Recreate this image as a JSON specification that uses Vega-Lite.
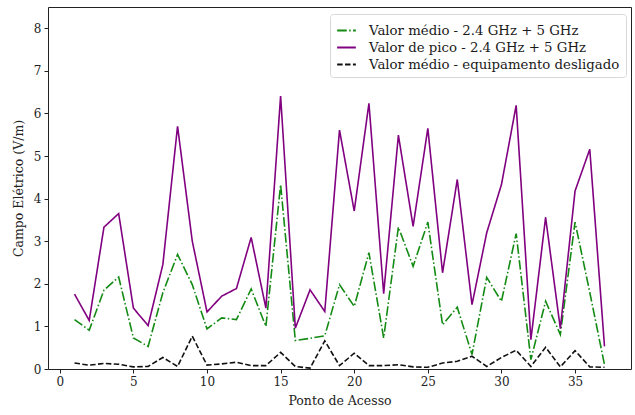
{
  "$schema": "https://vega.github.io/schema/vega-lite/v6.json",
  "width": 583,
  "height": 362,
  "autosize": {"type": "none"},
  "padding": {"left": 48, "top": 7, "right": 4, "bottom": 46},
  "background": "white",
  "config": {
    "font": "DejaVu Serif",
    "view": {"stroke": "#222", "strokeWidth": 1},
    "legend": {"labelFont": "DejaVu Serif", "titleFont": "DejaVu Serif"},
    "axis": {
      "labelFont": "DejaVu Serif",
      "titleFont": "DejaVu Serif",
      "labelFontSize": 12,
      "titleFontSize": 12.5,
      "titleFontWeight": "normal",
      "labelColor": "#222",
      "titleColor": "#222",
      "tickColor": "#222",
      "domain": false,
      "grid": false,
      "tickSize": 4,
      "labelPadding": 3
    }
  },
  "data": {
    "values": [
      {"x": 1, "v": 1.16, "s": "Valor médio - 2.4 GHz + 5 GHz"},
      {"x": 2, "v": 0.91, "s": "Valor médio - 2.4 GHz + 5 GHz"},
      {"x": 3, "v": 1.85, "s": "Valor médio - 2.4 GHz + 5 GHz"},
      {"x": 4, "v": 2.16, "s": "Valor médio - 2.4 GHz + 5 GHz"},
      {"x": 5, "v": 0.73, "s": "Valor médio - 2.4 GHz + 5 GHz"},
      {"x": 6, "v": 0.53, "s": "Valor médio - 2.4 GHz + 5 GHz"},
      {"x": 7, "v": 1.79, "s": "Valor médio - 2.4 GHz + 5 GHz"},
      {"x": 8, "v": 2.69, "s": "Valor médio - 2.4 GHz + 5 GHz"},
      {"x": 9, "v": 1.98, "s": "Valor médio - 2.4 GHz + 5 GHz"},
      {"x": 10, "v": 0.94, "s": "Valor médio - 2.4 GHz + 5 GHz"},
      {"x": 11, "v": 1.2, "s": "Valor médio - 2.4 GHz + 5 GHz"},
      {"x": 12, "v": 1.16, "s": "Valor médio - 2.4 GHz + 5 GHz"},
      {"x": 13, "v": 1.88, "s": "Valor médio - 2.4 GHz + 5 GHz"},
      {"x": 14, "v": 1.0, "s": "Valor médio - 2.4 GHz + 5 GHz"},
      {"x": 15, "v": 4.33, "s": "Valor médio - 2.4 GHz + 5 GHz"},
      {"x": 16, "v": 0.67, "s": "Valor médio - 2.4 GHz + 5 GHz"},
      {"x": 17, "v": 0.72, "s": "Valor médio - 2.4 GHz + 5 GHz"},
      {"x": 18, "v": 0.78, "s": "Valor médio - 2.4 GHz + 5 GHz"},
      {"x": 19, "v": 1.98, "s": "Valor médio - 2.4 GHz + 5 GHz"},
      {"x": 20, "v": 1.47, "s": "Valor médio - 2.4 GHz + 5 GHz"},
      {"x": 21, "v": 2.73, "s": "Valor médio - 2.4 GHz + 5 GHz"},
      {"x": 22, "v": 0.73, "s": "Valor médio - 2.4 GHz + 5 GHz"},
      {"x": 23, "v": 3.33, "s": "Valor médio - 2.4 GHz + 5 GHz"},
      {"x": 24, "v": 2.41, "s": "Valor médio - 2.4 GHz + 5 GHz"},
      {"x": 25, "v": 3.45, "s": "Valor médio - 2.4 GHz + 5 GHz"},
      {"x": 26, "v": 1.04, "s": "Valor médio - 2.4 GHz + 5 GHz"},
      {"x": 27, "v": 1.45, "s": "Valor médio - 2.4 GHz + 5 GHz"},
      {"x": 28, "v": 0.34, "s": "Valor médio - 2.4 GHz + 5 GHz"},
      {"x": 29, "v": 2.15, "s": "Valor médio - 2.4 GHz + 5 GHz"},
      {"x": 30, "v": 1.59, "s": "Valor médio - 2.4 GHz + 5 GHz"},
      {"x": 31, "v": 3.18, "s": "Valor médio - 2.4 GHz + 5 GHz"},
      {"x": 32, "v": 0.22, "s": "Valor médio - 2.4 GHz + 5 GHz"},
      {"x": 33, "v": 1.59, "s": "Valor médio - 2.4 GHz + 5 GHz"},
      {"x": 34, "v": 0.81, "s": "Valor médio - 2.4 GHz + 5 GHz"},
      {"x": 35, "v": 3.45, "s": "Valor médio - 2.4 GHz + 5 GHz"},
      {"x": 36, "v": 1.8, "s": "Valor médio - 2.4 GHz + 5 GHz"},
      {"x": 37, "v": 0.1, "s": "Valor médio - 2.4 GHz + 5 GHz"},
      {"x": 1, "v": 1.76, "s": "Valor de pico - 2.4 GHz + 5 GHz"},
      {"x": 2, "v": 1.14, "s": "Valor de pico - 2.4 GHz + 5 GHz"},
      {"x": 3, "v": 3.33, "s": "Valor de pico - 2.4 GHz + 5 GHz"},
      {"x": 4, "v": 3.65, "s": "Valor de pico - 2.4 GHz + 5 GHz"},
      {"x": 5, "v": 1.43, "s": "Valor de pico - 2.4 GHz + 5 GHz"},
      {"x": 6, "v": 1.02, "s": "Valor de pico - 2.4 GHz + 5 GHz"},
      {"x": 7, "v": 2.45, "s": "Valor de pico - 2.4 GHz + 5 GHz"},
      {"x": 8, "v": 5.7, "s": "Valor de pico - 2.4 GHz + 5 GHz"},
      {"x": 9, "v": 3.0, "s": "Valor de pico - 2.4 GHz + 5 GHz"},
      {"x": 10, "v": 1.34, "s": "Valor de pico - 2.4 GHz + 5 GHz"},
      {"x": 11, "v": 1.71, "s": "Valor de pico - 2.4 GHz + 5 GHz"},
      {"x": 12, "v": 1.89, "s": "Valor de pico - 2.4 GHz + 5 GHz"},
      {"x": 13, "v": 3.09, "s": "Valor de pico - 2.4 GHz + 5 GHz"},
      {"x": 14, "v": 1.43, "s": "Valor de pico - 2.4 GHz + 5 GHz"},
      {"x": 15, "v": 6.41, "s": "Valor de pico - 2.4 GHz + 5 GHz"},
      {"x": 16, "v": 0.96, "s": "Valor de pico - 2.4 GHz + 5 GHz"},
      {"x": 17, "v": 1.86, "s": "Valor de pico - 2.4 GHz + 5 GHz"},
      {"x": 18, "v": 1.35, "s": "Valor de pico - 2.4 GHz + 5 GHz"},
      {"x": 19, "v": 5.61, "s": "Valor de pico - 2.4 GHz + 5 GHz"},
      {"x": 20, "v": 3.71, "s": "Valor de pico - 2.4 GHz + 5 GHz"},
      {"x": 21, "v": 6.24, "s": "Valor de pico - 2.4 GHz + 5 GHz"},
      {"x": 22, "v": 1.77, "s": "Valor de pico - 2.4 GHz + 5 GHz"},
      {"x": 23, "v": 5.49, "s": "Valor de pico - 2.4 GHz + 5 GHz"},
      {"x": 24, "v": 3.35, "s": "Valor de pico - 2.4 GHz + 5 GHz"},
      {"x": 25, "v": 5.65, "s": "Valor de pico - 2.4 GHz + 5 GHz"},
      {"x": 26, "v": 2.26, "s": "Valor de pico - 2.4 GHz + 5 GHz"},
      {"x": 27, "v": 4.45, "s": "Valor de pico - 2.4 GHz + 5 GHz"},
      {"x": 28, "v": 1.51, "s": "Valor de pico - 2.4 GHz + 5 GHz"},
      {"x": 29, "v": 3.2, "s": "Valor de pico - 2.4 GHz + 5 GHz"},
      {"x": 30, "v": 4.33, "s": "Valor de pico - 2.4 GHz + 5 GHz"},
      {"x": 31, "v": 6.19, "s": "Valor de pico - 2.4 GHz + 5 GHz"},
      {"x": 32, "v": 0.69, "s": "Valor de pico - 2.4 GHz + 5 GHz"},
      {"x": 33, "v": 3.56, "s": "Valor de pico - 2.4 GHz + 5 GHz"},
      {"x": 34, "v": 0.95, "s": "Valor de pico - 2.4 GHz + 5 GHz"},
      {"x": 35, "v": 4.18, "s": "Valor de pico - 2.4 GHz + 5 GHz"},
      {"x": 36, "v": 5.16, "s": "Valor de pico - 2.4 GHz + 5 GHz"},
      {"x": 37, "v": 0.53, "s": "Valor de pico - 2.4 GHz + 5 GHz"},
      {"x": 1, "v": 0.14, "s": "Valor médio - equipamento desligado"},
      {"x": 2, "v": 0.09, "s": "Valor médio - equipamento desligado"},
      {"x": 3, "v": 0.13, "s": "Valor médio - equipamento desligado"},
      {"x": 4, "v": 0.11, "s": "Valor médio - equipamento desligado"},
      {"x": 5, "v": 0.05, "s": "Valor médio - equipamento desligado"},
      {"x": 6, "v": 0.06, "s": "Valor médio - equipamento desligado"},
      {"x": 7, "v": 0.27, "s": "Valor médio - equipamento desligado"},
      {"x": 8, "v": 0.06, "s": "Valor médio - equipamento desligado"},
      {"x": 9, "v": 0.77, "s": "Valor médio - equipamento desligado"},
      {"x": 10, "v": 0.09, "s": "Valor médio - equipamento desligado"},
      {"x": 11, "v": 0.12, "s": "Valor médio - equipamento desligado"},
      {"x": 12, "v": 0.16, "s": "Valor médio - equipamento desligado"},
      {"x": 13, "v": 0.08, "s": "Valor médio - equipamento desligado"},
      {"x": 14, "v": 0.08, "s": "Valor médio - equipamento desligado"},
      {"x": 15, "v": 0.39, "s": "Valor médio - equipamento desligado"},
      {"x": 16, "v": 0.06, "s": "Valor médio - equipamento desligado"},
      {"x": 17, "v": 0.02, "s": "Valor médio - equipamento desligado"},
      {"x": 18, "v": 0.66, "s": "Valor médio - equipamento desligado"},
      {"x": 19, "v": 0.08, "s": "Valor médio - equipamento desligado"},
      {"x": 20, "v": 0.37, "s": "Valor médio - equipamento desligado"},
      {"x": 21, "v": 0.08, "s": "Valor médio - equipamento desligado"},
      {"x": 22, "v": 0.08, "s": "Valor médio - equipamento desligado"},
      {"x": 23, "v": 0.1, "s": "Valor médio - equipamento desligado"},
      {"x": 24, "v": 0.05, "s": "Valor médio - equipamento desligado"},
      {"x": 25, "v": 0.04, "s": "Valor médio - equipamento desligado"},
      {"x": 26, "v": 0.14, "s": "Valor médio - equipamento desligado"},
      {"x": 27, "v": 0.18, "s": "Valor médio - equipamento desligado"},
      {"x": 28, "v": 0.3, "s": "Valor médio - equipamento desligado"},
      {"x": 29, "v": 0.06, "s": "Valor médio - equipamento desligado"},
      {"x": 30, "v": 0.27, "s": "Valor médio - equipamento desligado"},
      {"x": 31, "v": 0.44, "s": "Valor médio - equipamento desligado"},
      {"x": 32, "v": 0.06, "s": "Valor médio - equipamento desligado"},
      {"x": 33, "v": 0.51, "s": "Valor médio - equipamento desligado"},
      {"x": 34, "v": 0.05, "s": "Valor médio - equipamento desligado"},
      {"x": 35, "v": 0.43, "s": "Valor médio - equipamento desligado"},
      {"x": 36, "v": 0.05, "s": "Valor médio - equipamento desligado"},
      {"x": 37, "v": 0.04, "s": "Valor médio - equipamento desligado"}
    ]
  },
  "mark": {"type": "line", "strokeWidth": 1.6, "clip": true},
  "encoding": {
    "x": {
      "field": "x", "type": "quantitative",
      "scale": {"domain": [-0.8, 38.8], "nice": false, "zero": false},
      "axis": {"values": [0, 5, 10, 15, 20, 25, 30, 35], "title": "Ponto de Acesso", "titlePadding": 7}
    },
    "y": {
      "field": "v", "type": "quantitative",
      "scale": {"domain": [0, 8.5], "nice": false},
      "axis": {"values": [0, 1, 2, 3, 4, 5, 6, 7, 8], "title": "Campo Elétrico (V/m)", "titlePadding": 8}
    },
    "color": {
      "field": "s", "type": "nominal",
      "scale": {
        "domain": ["Valor médio - 2.4 GHz + 5 GHz", "Valor de pico - 2.4 GHz + 5 GHz", "Valor médio - equipamento desligado"],
        "range": ["#138a13", "#800080", "#111111"]
      },
      "legend": {
        "title": null,
        "orient": "none",
        "legendX": 282,
        "legendY": 7,
        "symbolType": "stroke",
        "symbolSize": 350,
        "symbolStrokeWidth": 2,
        "labelFont": "DejaVu Serif",
        "labelFontSize": 13.3,
        "labelColor": "#1a1a1a",
        "labelOffset": 12,
        "rowPadding": 0,
        "padding": 6,
        "fillColor": "white",
        "strokeColor": "#d8d8d8",
        "cornerRadius": 3,
        "labelLimit": 400
      }
    },
    "strokeDash": {
      "field": "s", "type": "nominal",
      "scale": {
        "domain": ["Valor médio - 2.4 GHz + 5 GHz", "Valor de pico - 2.4 GHz + 5 GHz", "Valor médio - equipamento desligado"],
        "range": [[9.6, 2.4, 1.5, 2.4], [1, 0], [5.5, 2.4]]
      },
      "legend": null
    }
  }
}
